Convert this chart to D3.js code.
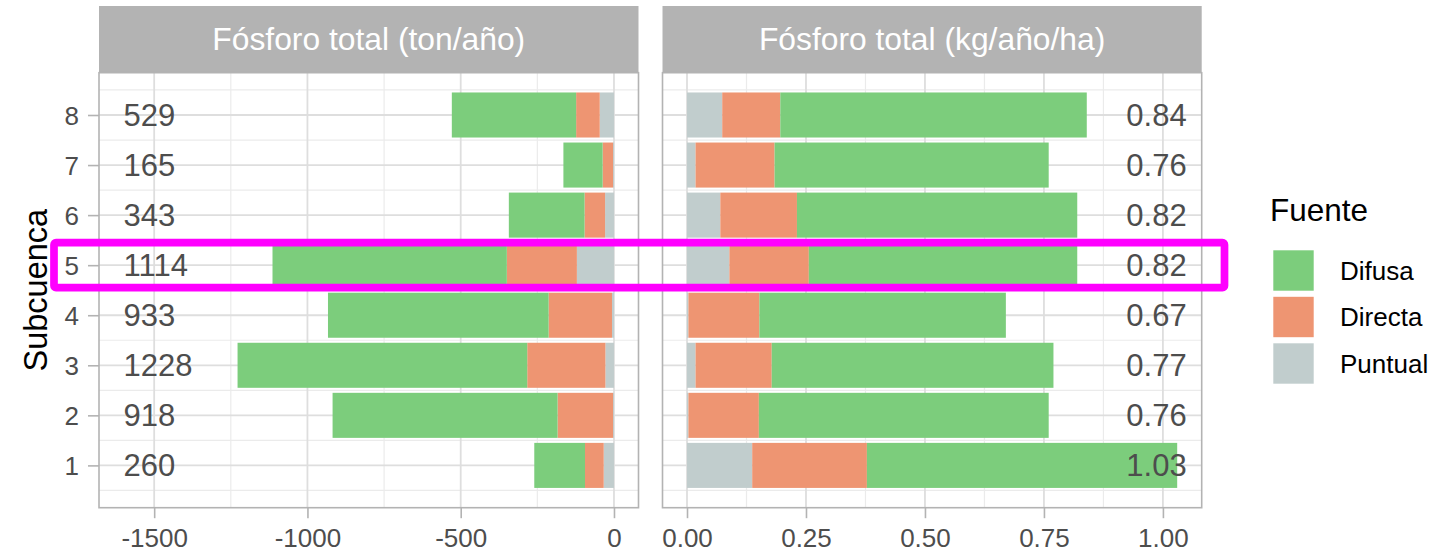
<!DOCTYPE html>
<html>
<head>
<meta charset="utf-8">
<script src="https://cdn.jsdelivr.net/npm/d3@7"></script>
<style>
  html, body { margin: 0; padding: 0; background: #ffffff; }
  svg { display: block; font-family: "Liberation Sans", Arial, sans-serif; }
</style>
</head>
<body>
<svg id="chart" width="1449" height="552"></svg>
<script>
// Subcuencas (eje Y) y fuentes de fósforo
const subcuencas = [1, 2, 3, 4, 5, 6, 7, 8];
const fuentes = ["Difusa", "Directa", "Puntual"];
const stackOrder = ["Puntual", "Directa", "Difusa"]; // desde el cero hacia afuera

// Fósforo total (ton/año) por fuente, subcuencas 1..8
const tonPuntual = [33.5, 3, 28, 6.5, 121, 29, 3, 46.5];
const tonDirecta = [61, 181, 255, 206.7, 228.5, 67, 34, 77];
const tonDifusa  = [165.5, 734, 945, 719.8, 764.5, 247, 128, 405.5];

// Fósforo total (kg/año/ha) por fuente, subcuencas 1..8
const haPuntual = [0.137, 0.003, 0.018, 0.003, 0.089, 0.070, 0.018, 0.074];
const haDirecta = [0.241, 0.148, 0.160, 0.149, 0.167, 0.161, 0.166, 0.122];
const haDifusa  = [0.652, 0.609, 0.592, 0.518, 0.564, 0.589, 0.576, 0.644];

// Marcas de los ejes
const ticksTon = [-1500, -1000, -500, 0];
const minorTon = [-1250, -750, -250];
const ticksHa = [0, 0.25, 0.5, 0.75, 1.0];
const minorHa = [0.125, 0.375, 0.625, 0.875];

const subcuencaDestacada = 5;

const colores = { Difusa: "#7ccd7c", Directa: "#ee9572", Puntual: "#c1cdcd" };

const svg = d3.select("#chart");
const font = '"Liberation Sans", Arial, sans-serif';

// Formatos con guion ASCII para los negativos
const fmtInt = v => String(Math.round(v));
const fmt2 = v => v.toFixed(2);

// Geometría de los paneles
const panelTop = 72.7, panelBottom = 507.7, stripTop = 6;
const panels = [
  {
    title: "Fósforo total (ton/año)",
    x0: 99, x1: 638.5,
    values: { Puntual: tonPuntual, Directa: tonDirecta, Difusa: tonDifusa },
    sign: -1,
    labelValue: -1600, labelAnchor: "start",
    fmt: fmtInt,
    ticks: ticksTon, minor: minorTon,
    tickFmt: fmtInt
  },
  {
    title: "Fósforo total (kg/año/ha)",
    x0: 662.5, x1: 1201.7,
    values: { Puntual: haPuntual, Directa: haDirecta, Difusa: haDifusa },
    sign: 1,
    labelValue: 1.05, labelAnchor: "end",
    fmt: fmt2,
    ticks: ticksHa, minor: minorHa,
    tickFmt: fmt2
  }
];

// Escala Y continua (barras de ancho 0.9, expansión 5%)
const yLo = 1 - 0.45, yHi = 8 + 0.45, yPad = (yHi - yLo) * 0.05;
const y = d3.scaleLinear().domain([yLo - yPad, yHi + yPad]).range([panelBottom, panelTop]);
const barH = y(0) - y(0.9);

panels.forEach(p => {
  const rows = subcuencas.map((s, i) => {
    const r = { sub: s };
    stackOrder.forEach(f => r[f] = p.values[f][i]);
    r.total = d3.sum(stackOrder, f => r[f]);
    return r;
  });
  const series = d3.stack().keys(stackOrder)(rows);

  // Dominio X: para ton/año incluye la posición de las etiquetas, para kg/año/ha el máximo total
  let lo, hi;
  if (p.sign < 0) { lo = p.labelValue; hi = 0; }
  else { lo = 0; hi = d3.max(rows, r => r.total); }
  const pad = (hi - lo) * 0.05;
  const x = d3.scaleLinear().domain([lo - pad, hi + pad]).range([p.x0, p.x1]);

  const g = svg.append("g");

  // Tira de título
  g.append("rect").attr("x", p.x0).attr("y", stripTop)
    .attr("width", p.x1 - p.x0).attr("height", panelTop - stripTop)
    .attr("fill", "#b3b3b3");
  g.append("text").attr("x", (p.x0 + p.x1) / 2).attr("y", (stripTop + panelTop) / 2 + 11)
    .attr("text-anchor", "middle").attr("fill", "#ffffff")
    .attr("font-size", 31.8).attr("font-family", font).text(p.title);

  // Cuadrícula
  const grid = g.append("g");
  const yMinor = d3.range(0.5, 9, 1);
  grid.selectAll(".ymin").data(yMinor).join("line")
    .attr("x1", p.x0).attr("x2", p.x1).attr("y1", d => y(d)).attr("y2", d => y(d))
    .attr("stroke", "#ebebeb").attr("stroke-width", 1.2);
  grid.selectAll(".xmin").data(p.minor).join("line")
    .attr("x1", d => x(d)).attr("x2", d => x(d)).attr("y1", panelTop).attr("y2", panelBottom)
    .attr("stroke", "#ebebeb").attr("stroke-width", 1.2);
  grid.selectAll(".ymaj").data(subcuencas).join("line")
    .attr("x1", p.x0).attr("x2", p.x1).attr("y1", d => y(d)).attr("y2", d => y(d))
    .attr("stroke", "#dedede").attr("stroke-width", 1.8);
  grid.selectAll(".xmaj").data(p.ticks).join("line")
    .attr("x1", d => x(d)).attr("x2", d => x(d)).attr("y1", panelTop).attr("y2", panelBottom)
    .attr("stroke", "#dedede").attr("stroke-width", 1.8);

  // Barras apiladas
  g.append("g").selectAll("g").data(series).join("g")
    .attr("fill", d => colores[d.key])
    .selectAll("rect").data(d => d).join("rect")
    .attr("x", d => Math.min(x(p.sign * d[0]), x(p.sign * d[1])))
    .attr("width", d => Math.abs(x(p.sign * d[1]) - x(p.sign * d[0])))
    .attr("y", d => y(d.data.sub) - barH / 2)
    .attr("height", barH);

  // Totales
  g.append("g").selectAll("text").data(rows).join("text")
    .attr("x", x(p.labelValue)).attr("y", d => y(d.sub) + 11)
    .attr("text-anchor", p.labelAnchor).attr("fill", "#4d4d4d")
    .attr("font-size", 31).attr("font-family", font)
    .text(d => p.fmt(d.total));

  // Borde del panel
  g.append("rect").attr("x", p.x0).attr("y", panelTop)
    .attr("width", p.x1 - p.x0).attr("height", panelBottom - panelTop)
    .attr("fill", "none").attr("stroke", "#b3b3b3").attr("stroke-width", 1.6);

  // Eje X
  const ax = g.append("g").attr("transform", `translate(0,${panelBottom})`)
    .call(d3.axisBottom(x).tickValues(p.ticks).tickFormat(p.tickFmt).tickSize(10.5).tickPadding(10));
  ax.select(".domain").remove();
  ax.selectAll(".tick line").attr("stroke", "#b3b3b3").attr("stroke-width", 1.6);
  ax.selectAll(".tick text").attr("fill", "#4d4d4d").attr("font-size", 26)
    .attr("font-family", font).attr("dy", "0.71em");
});

// Eje Y (solo en el primer panel)
const ay = svg.append("g").attr("transform", `translate(${panels[0].x0},0)`)
  .call(d3.axisLeft(y).tickValues(subcuencas).tickFormat(fmtInt).tickSize(11).tickPadding(9));
ay.select(".domain").remove();
ay.selectAll(".tick line").attr("stroke", "#b3b3b3").attr("stroke-width", 1.6);
ay.selectAll(".tick text").attr("fill", "#4d4d4d").attr("font-size", 26)
  .attr("font-family", font).attr("dy", "0.35em");

svg.append("text")
  .attr("transform", `translate(47,${(panelTop + panelBottom) / 2}) rotate(-90)`)
  .attr("text-anchor", "middle").attr("fill", "#000")
  .attr("font-size", 32.5).attr("font-family", font).text("Subcuenca");

// Leyenda
const leg = svg.append("g");
leg.append("text").attr("x", 1270).attr("y", 221)
  .attr("font-size", 31.5).attr("font-family", font).attr("fill", "#000").text("Fuente");
const keyY = d3.scalePoint().domain(fuentes).range([270.5, 363.5]);
fuentes.forEach(f => {
  leg.append("rect").attr("x", 1273.3).attr("y", keyY(f) - 20.2)
    .attr("width", 40.4).attr("height", 40.4).attr("fill", colores[f]);
  leg.append("text").attr("x", 1340).attr("y", keyY(f) + 9.3)
    .attr("font-size", 26).attr("font-family", font).attr("fill", "#000").text(f);
});

// Recuadro que resalta la subcuenca destacada
svg.append("rect")
  .attr("x", 54).attr("y", y(subcuencaDestacada + 0.45))
  .attr("width", 1224.5 - 54)
  .attr("height", y(subcuencaDestacada - 0.45) - y(subcuencaDestacada + 0.45))
  .attr("rx", 2).attr("fill", "none")
  .attr("stroke", "#ff00ff").attr("stroke-width", 7.7);
</script>
</body>
</html>
